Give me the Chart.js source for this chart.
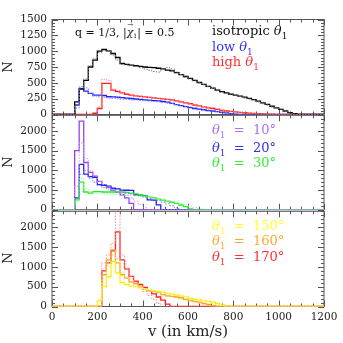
<!DOCTYPE html>
<html>
<head>
<meta charset="utf-8">
<script src="https://cdn.jsdelivr.net/npm/chart.js@4.4.1/dist/chart.umd.min.js"></script>
<style>
  html, body { margin: 0; padding: 0; background: #fff; }
  #wrap { position: relative; width: 343px; height: 343px; overflow: hidden; }
  canvas { position: absolute; left: 0; }
</style>
</head>
<body>
<div id="wrap">
  <canvas id="panelTop" width="343" height="126" style="top:0px"></canvas>
  <canvas id="panelMid" width="343" height="117" style="top:104px"></canvas>
  <canvas id="panelBot" width="343" height="143" style="top:200px"></canvas>
</div>
<script>
// histogram bins: 20 km/s wide, values are counts N per bin
const binWidth = 20;
const vMax = 1200;
const velocityTicks = [0, 200, 400, 600, 800, 1000, 1200];

// top panel (q = 1/3, |chi1| = 0.5), bins start at 100 km/s
const topStart = 100;
const topTicks = [0, 250, 500, 750, 1000, 1250, 1500];
const isoSolid = [200, 400, 540, 750, 860, 1000, 1026, 1005, 963, 900, 805, 790, 780, 770, 760, 750, 745, 740, 730, 720, 700, 690, 660, 630, 600, 570, 540, 505, 475, 445, 415, 385, 360, 340, 320, 305, 290, 275, 255, 235, 210, 185, 160, 130, 105, 80, 55, 30, 12];
const isoDotted = [150, 420, 560, 770, 880, 980, 1010, 1010, 940, 860, 790, 780, 770, 760, 740, 720, 700, 680, 670, 720, 740, 720, 670, 630, 590, 560, 530, 500, 470, 440, 410, 390, 350, 330, 320, 310, 290, 260, 245, 230, 200, 170, 150, 120, 100, 85, 55, 25, 8];
const lowSolid = [150, 410, 370, 332, 305, 305, 300, 280, 278, 275, 265, 260, 253, 245, 238, 230, 226, 220, 215, 205, 195, 175, 155, 140, 125, 110, 95, 85, 75, 62, 55, 45, 35, 25, 15, 5];
const lowDotted = [100, 440, 420, 330, 290, 280, 270, 260, 255, 250, 240, 238, 232, 228, 222, 218, 212, 205, 200, 190, 180, 170, 158, 146, 132, 120, 108, 95, 85, 72, 60, 48, 36, 24, 14, 5];
const highSolid = [0, 0, 0, 0, 20, 95, 490, 490, 384, 360, 340, 320, 305, 295, 285, 278, 270, 262, 255, 248, 240, 230, 215, 200, 185, 170, 150, 135, 120, 105, 95, 80, 65, 55, 48, 40, 34, 28, 23, 18, 14, 10, 7, 5, 3];
const highDotted = [0, 0, 0, 0, 0, 120, 560, 540, 400, 380, 350, 330, 310, 300, 290, 280, 270, 260, 250, 240, 235, 225, 210, 195, 180, 165, 150, 135, 125, 115, 110, 90, 70, 55, 45, 38, 30, 25, 20, 15, 10, 6, 3];

// middle panel, low theta1, bins start at 100 km/s
const midStart = 100;
const lowerTicks = [0, 500, 1000, 1500, 2000];
const th10Solid = [1500, 2250, 1200, 950, 850, 720, 640, 570, 500, 450, 380, 300, 160];
const th10Dotted = [600, 1700, 1300, 1000, 850, 720, 640, 580, 520, 470, 420, 360, 300, 220, 130, 50];
const th20Solid = [300, 1150, 905, 840, 820, 640, 620, 600, 545, 530, 500, 495, 490, 380, 370, 360, 250, 245, 123];
const th20Dotted = [300, 900, 1000, 800, 700, 620, 560, 520, 490, 460, 440, 420, 400, 370, 350, 320, 290, 260, 230, 190, 150, 100, 50];
const th30Solid = [250, 700, 450, 420, 460, 460, 450, 450, 450, 460, 450, 440, 420, 400, 380, 350, 320, 300, 270, 245, 220, 190, 160, 120, 80, 20];
const th30Dotted = [200, 800, 550, 460, 420, 410, 400, 400, 395, 390, 385, 380, 370, 360, 345, 330, 310, 290, 270, 250, 225, 200, 175, 150, 120, 90, 60, 35, 15];

// bottom panel, high theta1, bins start at 200 km/s
const botStart = 200;
const th150Solid = [150, 500, 750, 1130, 850, 600, 550, 520, 500, 470, 440, 420, 400, 380, 360, 330, 310, 290, 270, 250, 200, 180, 170, 150, 130, 110, 80, 40];
const th150Dotted = [200, 600, 900, 1000, 800, 650, 580, 540, 500, 470, 450, 430, 410, 390, 370, 345, 320, 300, 280, 255, 230, 200, 170, 140, 110, 80, 50, 25];
const th160Solid = [0, 800, 1176, 1430, 1100, 800, 715, 620, 580, 520, 440, 400, 380, 360, 300, 270, 255, 240, 220, 180, 150, 130, 110, 80, 50, 20];
const th160Dotted = [0, 700, 1100, 1300, 1200, 850, 720, 620, 560, 500, 450, 410, 370, 330, 300, 270, 240, 220, 190, 165, 140, 110, 80, 50, 25];
const th170Solid = [0, 900, 1100, 1400, 1880, 1176, 950, 760, 640, 560, 480, 400, 320, 240, 160, 60];
const th170Dotted = [0, 1100, 1300, 1600, 2600, 1300, 950, 750, 600, 480, 380, 280, 180, 80];

const SERIF = '"DejaVu Serif", serif';

// step points for a histogram that runs along zero over the whole range
function histPoints(start, values) {
  const pts = [{ x: 0, y: 0 }];
  values.forEach((n, i) => pts.push({ x: start + i * binWidth, y: n }));
  pts.push({ x: start + values.length * binWidth, y: 0 });
  pts.push({ x: vMax, y: 0 });
  return pts;
}

function hist(start, values, color, dotted) {
  return {
    data: histPoints(start, values),
    borderColor: color,
    borderWidth: dotted ? 1 : 1.3,
    borderDash: dotted ? [1.5, 1.5] : [],
    stepped: 'before',
    pointRadius: 0,
    fill: false
  };
}

// text made of runs: plain, italic theta, subscript
function drawRuns(ctx, x, y, runs, color) {
  ctx.fillStyle = color;
  ctx.textAlign = 'left';
  ctx.textBaseline = 'alphabetic';
  for (const r of runs) {
    ctx.font = r.font;
    ctx.fillText(r.t, x, y + (r.dy || 0));
    const w = ctx.measureText(r.t).width;
    if (r.over) {
      ctx.font = '7px ' + SERIF;
      ctx.fillText(r.over, x + 0.5, y - 9);
    }
    x += w;
  }
}

function thetaRuns(prefix, suffix, size) {
  const runs = [];
  if (prefix) runs.push({ t: prefix, font: size + 'px ' + SERIF });
  runs.push({ t: 'θ', font: 'italic ' + size + 'px ' + SERIF });
  runs.push({ t: '1', font: (size - 4) + 'px ' + SERIF, dy: 4 });
  if (suffix) runs.push({ t: suffix, font: size + 'px ' + SERIF });
  return runs;
}

// frame with inward ticks on all four sides
const frameTicks = {
  id: 'frameTicks',
  beforeDatasetsDraw(chart, args, opts) {
    const { ctx, chartArea: a, scales: { x, y } } = chart;
    ctx.save();
    ctx.strokeStyle = '#555';
    ctx.lineWidth = 1;
    ctx.strokeRect(a.left, a.top, a.right - a.left, a.bottom - a.top);
    ctx.beginPath();
    for (let v = 0; v <= vMax; v += 50) {
      const px = Math.round(x.getPixelForValue(v)) + 0.5;
      const len = v % 200 === 0 ? 6 : 3;
      ctx.moveTo(px, a.bottom); ctx.lineTo(px, a.bottom - len);
      ctx.moveTo(px, a.top); ctx.lineTo(px, a.top + len);
    }
    for (let v = 0; v <= y.max; v += opts.minor) {
      const py = Math.round(y.getPixelForValue(v)) + 0.5;
      const len = v % opts.major === 0 ? 6 : 3;
      ctx.moveTo(a.left, py); ctx.lineTo(a.left + len, py);
      ctx.moveTo(a.right, py); ctx.lineTo(a.right - len, py);
    }
    ctx.stroke();
    ctx.restore();
  },
  afterDraw(chart, args, opts) {
    const ctx = chart.ctx;
    ctx.save();
    // rotated axis label
    ctx.translate(9, opts.nY);
    ctx.rotate(-Math.PI / 2);
    ctx.font = '13px ' + SERIF;
    ctx.fillStyle = '#222';
    ctx.textAlign = 'center';
    ctx.textBaseline = 'middle';
    ctx.fillText('N', 0, 0);
    ctx.restore();
    ctx.save();
    (opts.texts || []).forEach(tx => drawRuns(ctx, tx.x, tx.y, tx.runs, tx.color));
    if (opts.xTitle) {
      ctx.font = '15px ' + SERIF;
      ctx.fillStyle = '#222';
      ctx.textAlign = 'center';
      ctx.textBaseline = 'alphabetic';
      ctx.fillText(opts.xTitle, 188, 136);
    }
    ctx.restore();
  }
};

function makePanel(id, datasets, yTicks, yMax, minor, major, pad, showX, extra) {
  return new Chart(document.getElementById(id), {
    type: 'line',
    data: { datasets },
    options: {
      responsive: false,
      animation: false,
      devicePixelRatio: 1,
      layout: { padding: pad },
      plugins: {
        legend: { display: false },
        tooltip: { enabled: false },
        frameTicks: Object.assign({ minor, major }, extra)
      },
      scales: {
        x: {
          type: 'linear', min: 0, max: vMax,
          display: showX,
          afterBuildTicks: s => { s.ticks = velocityTicks.map(v => ({ value: v })); },
          afterFit: s => { if (showX) s.height = 36.5; },
          grid: { display: false, drawTicks: false },
          border: { display: false },
          ticks: { padding: 4, color: '#222', font: { family: SERIF, size: 10.5 }, maxRotation: 0, autoSkip: false, callback: v => String(v) }
        },
        y: {
          type: 'linear', min: 0, max: yMax,
          afterBuildTicks: s => { s.ticks = yTicks.map(v => ({ value: v })); },
          afterFit: s => { s.width = 52; },
          grid: { display: false, drawTicks: false },
          border: { display: false },
          ticks: { padding: 5, color: '#222', font: { family: SERIF, size: 10.5 }, autoSkip: false, callback: v => String(v) }
        }
      }
    },
    plugins: [frameTicks]
  });
}

// top panel
makePanel('panelTop', [
  hist(topStart, isoDotted, '#777777', true),
  hist(topStart, highDotted, '#ff8888', true),
  hist(topStart, lowDotted, '#8080ff', true),
  hist(topStart, isoSolid, '#000000', false),
  hist(topStart, highSolid, '#ff2020', false),
  hist(topStart, lowSolid, '#2020ff', false)
], topTicks, 1500, 50, 250, { top: 19.5, bottom: 11.5, left: 0, right: 19 }, false, {
  nY: 67,
  texts: [
    { x: 75, y: 36, color: '#111', runs: [
      { t: 'q = 1/3, |', font: '11px ' + SERIF },
      { t: 'χ', font: 'italic 11px ' + SERIF, over: '→' },
      { t: '1', font: '6px ' + SERIF, dy: 2 },
      { t: '| = 0.5', font: '11px ' + SERIF }
    ] },
    { x: 212, y: 35, color: '#111', runs: thetaRuns('isotropic ', '', 13) },
    { x: 212, y: 51, color: '#3030ff', runs: thetaRuns('low ', '', 13) },
    { x: 212, y: 66, color: '#ff3030', runs: thetaRuns('high ', '', 13) }
  ]
});

// middle panel
makePanel('panelMid', [
  hist(midStart, th10Dotted, '#c8a0ff', true),
  hist(midStart, th20Dotted, '#7a7aff', true),
  hist(midStart, th30Dotted, '#90ff90', true),
  hist(midStart, th30Solid, '#22ee22', false),
  hist(midStart, th20Solid, '#2020dd', false),
  hist(midStart, th10Solid, '#9a40f0', false)
], lowerTicks, 2400, 100, 500, { top: 10.5, bottom: 11, left: 0, right: 19 }, false, {
  nY: 58,
  texts: [
    { x: 212, y: 30, color: '#b070f0', runs: thetaRuns('', '  =  10°', 13) },
    { x: 212, y: 47.5, color: '#3030e0', runs: thetaRuns('', '  =  20°', 13) },
    { x: 212, y: 63, color: '#33ee33', runs: thetaRuns('', '  =  30°', 13) }
  ]
});

// bottom panel
makePanel('panelBot', [
  hist(botStart, th150Dotted, '#ffff80', true),
  hist(botStart, th160Dotted, '#ffc870', true),
  hist(botStart, th170Dotted, '#ff9090', true),
  hist(botStart, th150Solid, '#f0f000', false),
  hist(botStart, th160Solid, '#ffa020', false),
  hist(botStart, th170Solid, '#ff2020', false)
], lowerTicks, 2400, 100, 500, { top: 10, bottom: 0, left: 0, right: 19 }, true, {
  nY: 58,
  xTitle: 'v (in km/s)',
  texts: [
    { x: 212, y: 30, color: '#ffff30', runs: thetaRuns('', '  =  150°', 13) },
    { x: 212, y: 45, color: '#ffa830', runs: thetaRuns('', '  =  160°', 13) },
    { x: 212, y: 61, color: '#ff3030', runs: thetaRuns('', '  =  170°', 13) }
  ]
});
</script>
</body>
</html>
